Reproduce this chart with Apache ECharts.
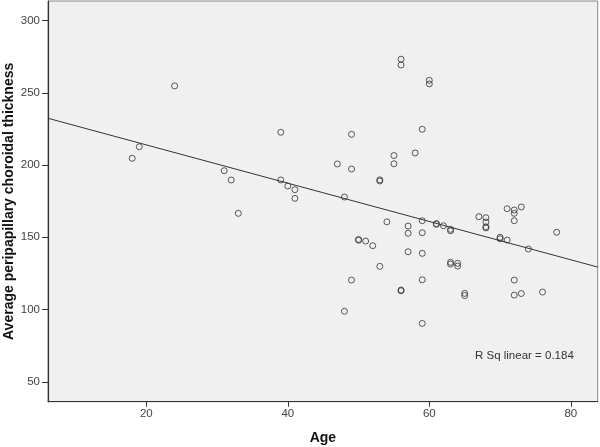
<!DOCTYPE html>
<html>
<head>
<meta charset="utf-8">
<script src="https://cdn.jsdelivr.net/npm/echarts@6/dist/echarts.min.js"></script>
<style>html,body{margin:0;padding:0;background:#fff}#c{width:600px;height:447px}</style>
</head>
<body>
<div id="c"></div>
<script>
// Data
var ages = [18,19,24,31,32,33,39,39,40,41,41,47,48,48,49,49,49,50,50,51,52,53,53,53,54,55,55,56,56,56,56,57,57,57,58,59,59,59,59,59,59,60,60,61,61,62,63,63,63,63,64,64,65,65,67,68,68,68,68,70,70,71,71,72,72,72,72,72,73,73,74,76,78];
var thickness = [204.7,212.7,254.8,196.1,189.7,166.6,222.7,189.7,185.5,183,177,200.8,177.9,98.8,221.3,197.3,120.4,148.5,148,147.4,144.2,189.8,189,129.9,160.7,206.6,200.9,273.3,269.3,113.5,113,157.8,152.8,140,208.4,224.8,161.5,153.2,138.9,120.6,90.4,258.7,256.2,159.5,159,158,155.5,154.5,132.7,131.5,132,130.1,111.2,109.7,164.3,163.6,160.6,157.3,156.5,150,149,169.8,148.1,168.9,166.6,161.5,120.4,110,171,111.1,141.9,112.1,153.5];
var fitX = [6.1, 83.8];
var fitY = [232.4, 129.4];
var xTicks = [20,40,60,80];
var yTicks = [50,100,150,200,250,300];
var rSqText = 'R Sq linear = 0.184';

var pts = ages.map(function(a,i){return [a, thickness[i]];});
var fitPts = fitX.map(function(x,i){return [x, fitY[i]];});

var chart = echarts.init(document.getElementById('c'), null, {renderer:'canvas'});
var font = 'Liberation Sans, Arial, sans-serif';
chart.setOption({
  animation:false,
  backgroundColor:'#ffffff',
  grid:{left:48, right:2.3, top:1, bottom:45.3, containLabel:false, outerBoundsMode:'none',
        show:true, backgroundColor:'#f0f0f0', borderColor:'#8a8a8a', borderWidth:1},
  xAxis:{
    type:'value', min:6.1, max:83.8,
    name:'Age', nameLocation:'middle', nameGap:29, nameMoveOverlap:false,
    nameTextStyle:{fontFamily:font, fontWeight:'bold', fontSize:14, color:'#111'},
    axisLine:{show:true, onZero:false, lineStyle:{color:'#333', width:1.2}},
    axisTick:{show:true, length:5, customValues:xTicks, lineStyle:{color:'#333'}},
    axisLabel:{customValues:xTicks, fontFamily:font, fontSize:11.5, color:'#444', margin:6},
    splitLine:{show:false}
  },
  yAxis:{
    type:'value', min:36.2, max:313.6,
    name:'Average peripapillary choroidal thickness', nameLocation:'middle', nameGap:32, nameMoveOverlap:false,
    nameTextStyle:{fontFamily:font, fontWeight:'bold', fontSize:14, color:'#111'},
    axisLine:{show:true, onZero:false, lineStyle:{color:'#333', width:1.2}},
    axisTick:{show:true, length:6, customValues:yTicks, lineStyle:{color:'#333'}},
    axisLabel:{customValues:yTicks, fontFamily:font, fontSize:11.5, color:'#444', margin:8},
    splitLine:{show:false}
  },
  series:[
    {type:'scatter', data:pts, symbol:'circle', symbolSize:6,
     itemStyle:{color:'rgba(0,0,0,0)', borderColor:'#333', borderWidth:1}, z:3},
    {type:'line', data:fitPts, symbol:'none', lineStyle:{color:'#333', width:1}, z:2}
  ],
  graphic:[
    {type:'text', left:475, top:350, style:{text:rSqText, font:'11.5px '+font, fill:'#333'}}
  ]
});
</script>
</body>
</html>
